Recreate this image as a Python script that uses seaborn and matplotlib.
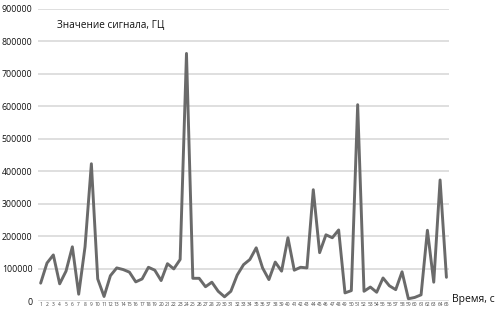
import seaborn as sns
import matplotlib.pyplot as plt
import pandas as pd

# signal readings, one per second
seconds = list(range(1, 66))
signal = [55000, 117000, 142000, 53000, 92000, 167000, 21000, 167000, 423000, 68000,
          14000, 78000, 102000, 97000, 89000, 59000, 68000, 104000, 95000, 63000,
          115000, 99000, 128000, 763000, 70000, 70000, 44000, 58000, 30000, 13000,
          30000, 80000, 112000, 128000, 164000, 102000, 66000, 120000, 92000, 195000,
          95000, 104000, 102000, 343000, 149000, 204000, 195000, 219000, 25000, 32000,
          605000, 30000, 43000, 27000, 71000, 47000, 35000, 90000, 7000, 11000,
          19000, 218000, 58000, 373000, 73000]
y_ticks = list(range(0, 900001, 100000))

df = pd.DataFrame({"t": seconds, "hz": signal})

sns.set_style("white")
plt.rcParams['font.family'] = ['Open Sans', 'DejaVu Sans']

fig = plt.figure(figsize=(4.95, 3.1), dpi=100)
ax = fig.add_axes([0.077, 0.029, 0.83, 0.942])

ax.set_yticks(y_ticks)
ax.yaxis.grid(True, color="#d9d9d9", linewidth=1.2)
ax.set_axisbelow(True)

sns.lineplot(data=df, x="t", y="hz", ax=ax, color="#6a6a6a", linewidth=2.1)

ax.set_xlim(0.6, 65.4)
ax.set_ylim(0, 900000)
ax.set_xticks(seconds)
ax.set_xticklabels([str(s) for s in seconds], fontsize=3.5, color="#444444")
ax.set_yticklabels([str(v) for v in y_ticks], fontsize=6.3, color="#111111")
ax.tick_params(axis="both", length=0, pad=1)
ax.tick_params(axis="y", pad=4)
ax.set_xlabel("")
ax.set_ylabel("")
for s in ax.spines.values():
    s.set_visible(False)

ax.text(0.045, 0.945, "Значение сигнала, ГЦ", transform=ax.transAxes,
        fontsize=7.2, color="#111111", va="center")
fig.text(0.913, 0.033, "Время, с", fontsize=7.5, color="#111111", va="center")

fig.savefig("out.png", dpi=100)
